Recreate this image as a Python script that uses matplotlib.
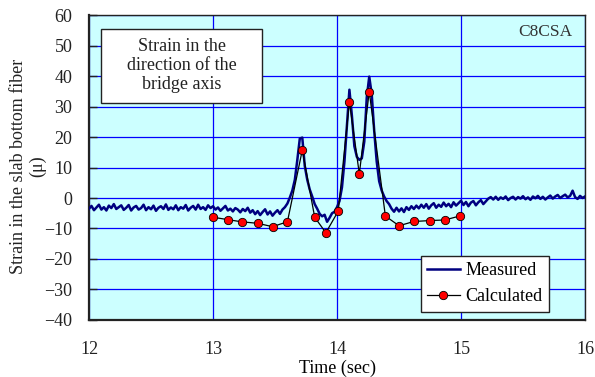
import numpy as np
import matplotlib
matplotlib.use("Agg")
import matplotlib.pyplot as plt
from matplotlib.patches import Rectangle

# Measured strain (sampled every 0.02 s from 12.00 to 16.00 s)
t_start = 12.0
t_step = 0.02
measured = [
    # 12.00 - 12.98
    -3.5, -2.6, -4.0, -3.1, -2.2, -3.8, -3.0, -4.1, -2.5, -3.3,
    -2.0, -3.6, -3.0, -2.4, -3.9, -3.2, -2.3, -4.1, -3.1, -2.6,
    -3.8, -3.3, -2.2, -4.0, -3.0, -3.7, -2.5, -4.2, -3.2, -2.7,
    -3.6, -2.1, -3.9, -3.1, -3.7, -2.4, -4.0, -3.0, -3.5, -2.3,
    -4.1, -3.2, -2.6, -3.8, -2.2, -3.6, -3.0, -3.9, -2.4, -3.3,
    # 13.00 - 13.58
    -2.7, -3.8, -3.1, -4.2, -3.4, -2.6, -4.1, -3.5, -4.4, -3.3,
    -3.8, -4.7, -3.6, -4.3, -3.2, -4.8, -4.0, -5.3, -4.3, -5.6,
    -4.6, -3.7, -5.4, -4.4, -5.8, -4.8, -4.0, -5.2, -3.8, -3.0,
    # 13.60 - 13.98
    -1.8, 0.2, 2.5, 6.0, 12.5, 19.5, 19.8, 10.5, 6.0, 2.8,
    0.5, -2.0, -3.5, -5.2, -6.0, -5.5, -7.8, -6.5, -5.0, -4.5,
    # 14.00 - 14.48
    -3.0, -1.0, 3.5, 12.0, 24.0, 35.5, 27.0, 17.0, 13.5, 12.5,
    13.0, 18.5, 33.0, 39.8, 34.0, 22.0, 12.0, 5.5, 2.5, 0.5,
    -1.0, -2.0, -3.5, -4.5, -3.2,
    # 14.50 - 16.00
    -4.4, -3.4, -4.6, -3.0, -3.9, -2.7, -3.6, -2.5, -3.4, -2.2,
    -3.2, -2.0, -3.5, -2.4, -1.7, -3.2, -2.2, -2.9, -1.5, -2.7,
    -1.9, -3.0, -1.4, -2.5, -1.7, -0.9, -2.3, -1.3, -2.7, -1.5,
    -1.0, -2.4, -1.4, -0.7, -2.0, -1.1, -0.2, 0.3, -0.5, 0.4,
    -0.6, 0.2, -0.3, 0.5, -0.7, 0.0, 0.4, -0.5, 0.3, -0.2,
    0.6, -0.4, 0.2, -0.6, 0.5, -0.1, 0.7, -0.3, 0.4, -0.5,
    0.2, 0.8, -0.2, 0.5, 1.0, 0.0, 0.6, 1.1, 0.2, 0.7,
    2.4, 0.3, -0.3, 0.7, 0.0, 0.5,
]
measured_t = t_start + t_step * np.arange(len(measured))

# Calculated strain
calc_t = [13.00, 13.12, 13.23, 13.36, 13.48, 13.60, 13.72, 13.82, 13.91, 14.01,
          14.10, 14.18, 14.26, 14.39, 14.50, 14.62, 14.75, 14.87, 14.99]
calc_v = [-6.3, -7.1, -7.8, -8.3, -9.4, -7.8, 15.7, -6.3, -11.4, -4.3,
          31.5, 7.9, 34.9, -5.9, -9.1, -7.7, -7.4, -7.2, -5.9]

x_ticks = [12, 13, 14, 15, 16]
y_ticks = list(range(-40, 61, 10))

plt.rcParams['font.family'] = ['Liberation Serif', 'DejaVu Serif']

FS = 13

fig = plt.figure(figsize=(5.95, 3.77), dpi=100)
ax = fig.add_axes([0.1496, 0.1512, 0.8336, 0.809])
ax.set_facecolor('#CCFFFF')

ax.set_xlim(12, 16)
ax.set_ylim(-40, 60)
ax.set_xticks(x_ticks)
ax.set_yticks(y_ticks)
ax.grid(True, color='#0000FF', linewidth=0.9)
ax.set_axisbelow(True)

ax.plot(measured_t, measured, color='#000080', linewidth=1.8, label='Measured', zorder=3)
ax.plot(calc_t, calc_v, color='black', linewidth=0.9, marker='o', markersize=6,
        markerfacecolor='#FF0000', markeredgecolor='black', markeredgewidth=0.6,
        label='Calculated', zorder=4)

for s in ax.spines.values():
    s.set_color('#222222')
    s.set_linewidth(1.0)
ax.spines['bottom'].set_linewidth(1.6)
ax.spines['left'].set_linewidth(1.6)

ax.tick_params(axis='y', direction='in', length=6, width=1, pad=12,
               labelsize=FS, colors='#222222', right=False)
ax.tick_params(axis='x', direction='in', length=0, pad=15, labelsize=FS,
               colors='#222222', top=False)

ax.set_xlabel('Time (sec)', fontsize=FS, labelpad=1)
fig.text(28 / 595, 1 - 166 / 377, 'Strain in the slab bottom fiber\n(μ)',
         rotation=90, ha='center', va='center', multialignment='center',
         fontsize=FS, linespacing=1.1, color='#222222')

# Annotation box
ax.add_patch(Rectangle((0.0242, 0.7115), 0.3246, 0.2426, transform=ax.transAxes,
                       facecolor='white', edgecolor='#222222', linewidth=1.0, zorder=6))
ax.text(0.1865, 0.835, 'Strain in the\ndirection of the\nbridge axis',
        transform=ax.transAxes, ha='center', va='center', fontsize=FS,
        linespacing=1.15, zorder=7, color='#222222')

ax.text(0.975, 0.943, 'C8CSA', transform=ax.transAxes, ha='right', va='center',
        fontsize=12.5, color='#333333', zorder=7)

leg = ax.legend(loc='upper left', bbox_to_anchor=(0.669, 0.21), fontsize=FS,
                frameon=True, fancybox=False, framealpha=1, edgecolor='#222222',
                borderpad=0.35, handlelength=1.8, handletextpad=0.3,
                labelspacing=0.5, borderaxespad=0)
leg.get_frame().set_linewidth(1.0)
leg.set_zorder(8)

fig.savefig('out.png', dpi=100)
